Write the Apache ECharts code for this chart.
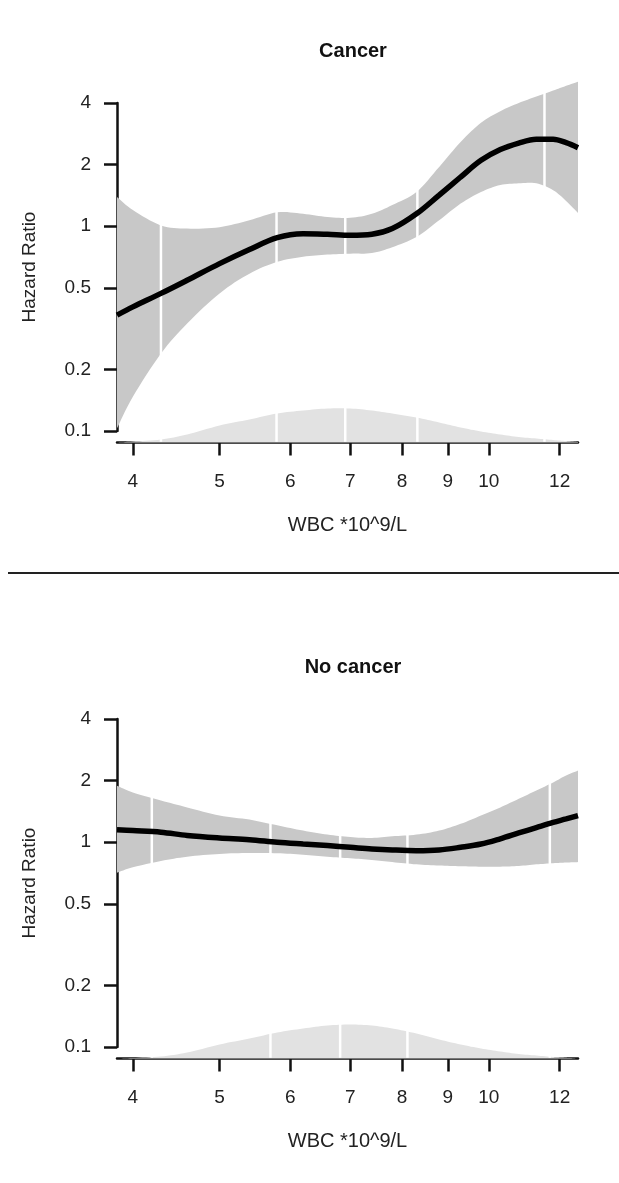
<!DOCTYPE html>
<html><head><meta charset="utf-8">
<script src="https://cdn.jsdelivr.net/npm/echarts@6/dist/echarts.min.js"></script>
<style>html,body{margin:0;padding:0;background:#fff}#c{width:619px;height:1183px}</style>
</head><body><div id="c"></div>
<script>
// ---- data ----
const wbc = [3.84, 4.0, 4.3, 4.6, 5.0, 5.4, 5.8, 6.2, 6.6, 7.0, 7.4, 7.8, 8.3, 8.8, 9.3, 9.8, 10.3, 10.8, 11.3, 11.8, 12.2, 12.58];
const cancerHR = [0.368, 0.404, 0.47, 0.545, 0.657, 0.77, 0.88, 0.92, 0.914, 0.904, 0.914, 0.974, 1.15, 1.42, 1.74, 2.10, 2.37, 2.55, 2.66, 2.66, 2.56, 2.42];
const cancerHi = [1.39, 1.20, 1.01, 0.974, 0.99, 1.07, 1.17, 1.15, 1.11, 1.10, 1.15, 1.27, 1.47, 1.95, 2.58, 3.2, 3.65, 4.0, 4.3, 4.6, 4.85, 5.08];
const cancerLo = [0.103, 0.147, 0.239, 0.335, 0.47, 0.587, 0.67, 0.71, 0.727, 0.735, 0.74, 0.79, 0.887, 1.07, 1.29, 1.47, 1.59, 1.62, 1.62, 1.50, 1.33, 1.16];
const cancerDensity = [0, 1, 3, 8, 17, 23, 29, 32, 34, 34, 32, 29, 25, 20, 15, 11, 8, 5.5, 4, 2.5, 1.5, 0.5];
const cancerQuantiles = [4.30, 5.79, 6.91, 8.32, 11.54];

const noCancerHR = [1.15, 1.14, 1.12, 1.08, 1.05, 1.03, 1.0, 0.98, 0.963, 0.945, 0.928, 0.917, 0.91, 0.917, 0.945, 0.98, 1.04, 1.11, 1.18, 1.25, 1.30, 1.35];
const noCancerHi = [1.89, 1.75, 1.6, 1.48, 1.35, 1.29, 1.21, 1.14, 1.09, 1.06, 1.05, 1.07, 1.09, 1.14, 1.23, 1.35, 1.48, 1.63, 1.79, 1.96, 2.12, 2.24];
const noCancerLo = [0.71, 0.755, 0.81, 0.85, 0.877, 0.887, 0.884, 0.87, 0.85, 0.835, 0.82, 0.80, 0.78, 0.77, 0.764, 0.76, 0.76, 0.766, 0.78, 0.79, 0.796, 0.80];
const noCancerDensity = [0, 0.5, 2, 6, 14, 20, 26, 30, 33, 34, 33, 30, 25, 19, 14, 10, 7, 4.5, 3, 1.5, 0.7, 0];
const noCancerQuantiles = [4.20, 5.70, 6.82, 8.11, 11.70];

const xTicks = [4, 5, 6, 7, 8, 9, 10, 12];
const yTicks = [0.1, 0.2, 0.5, 1, 2, 4];
const panelTitles = ['Cancer', 'No cancer'];
const xName = 'WBC *10^9/L';
const yName = 'Hazard Ratio';

// ---- chart ----
const FONT = '"Liberation Sans", Arial, sans-serif';
const X_MIN = 3.84, X_MAX = 12.58;
const panels = [
  {hr: cancerHR, lo: cancerLo, hi: cancerHi, dens: cancerDensity, q: cancerQuantiles, top: 103, title: panelTitles[0]},
  {hr: noCancerHR, lo: noCancerLo, hi: noCancerHi, dens: noCancerDensity, q: noCancerQuantiles, top: 719, title: panelTitles[1]}
];

// Catmull-Rom resampling of already-projected pixel points (smooth outline)
function smoothPts(pts, steps) {
  const out = [];
  const n = pts.length;
  for (let i = 0; i < n - 1; i++) {
    const p0 = pts[Math.max(i - 1, 0)], p1 = pts[i], p2 = pts[i + 1], p3 = pts[Math.min(i + 2, n - 1)];
    for (let s = 0; s < steps; s++) {
      const t = s / steps, t2 = t * t, t3 = t2 * t;
      const f = (a, b, c, d) => 0.5 * ((2 * b) + (-a + c) * t + (2 * a - 5 * b + 4 * c - d) * t2 + (-a + 3 * b - 3 * c + d) * t3);
      out.push([f(p0[0], p1[0], p2[0], p3[0]), f(p0[1], p1[1], p2[1], p3[1])]);
    }
  }
  out.push(pts[n - 1]);
  return out;
}

const grid = [], xAxis = [], yAxis = [], series = [], title = [];
panels.forEach((p, k) => {
  const gA = k * 2, gB = k * 2 + 1;
  grid.push({left: 117, right: 41, top: p.top, height: 328});
  grid.push({left: 117, right: 41, top: p.top + 301, height: 40});
  xAxis.push({type: 'log', gridIndex: gA, min: X_MIN, max: X_MAX, show: false});
  xAxis.push({
    type: 'log', gridIndex: gB, min: X_MIN, max: X_MAX,
    name: xName, nameLocation: 'middle', nameGap: 71,
    nameTextStyle: {fontFamily: FONT, fontSize: 20, color: '#222'},
    axisLine: {show: true, lineStyle: {color: '#111', width: 2.5}},
    axisTick: {show: true, length: 13, inside: false, customValues: xTicks, lineStyle: {color: '#111', width: 2.5}},
    axisLabel: {show: true, customValues: xTicks, margin: 28, fontFamily: FONT, fontSize: 19, color: '#222',
      formatter: v => String(Math.round(v))},
    splitLine: {show: false}, minorTick: {show: false}
  });
  yAxis.push({
    type: 'log', gridIndex: gA, min: 0.1, max: 4, logBase: 10,
    name: yName, nameLocation: 'middle', nameGap: 78, nameRotate: 90,
    nameTextStyle: {fontFamily: FONT, fontSize: 19, color: '#222'},
    axisLine: {show: true, lineStyle: {color: '#111', width: 2.5}},
    axisTick: {show: true, length: 13, customValues: yTicks, lineStyle: {color: '#111', width: 2.5}},
    axisLabel: {show: true, customValues: yTicks, margin: 26, fontFamily: FONT, fontSize: 19, color: '#222',
      formatter: v => String(+(+v).toPrecision(3))},
    splitLine: {show: false}
  });
  yAxis.push({type: 'value', gridIndex: gB, min: -1.5, max: 38.5, show: false});

  title.push({text: p.title, left: 348, textAlign: 'center', top: p.top - 67,
    textStyle: {fontFamily: FONT, fontSize: 20, fontWeight: 'bold', color: '#111'}});

  // density
  series.push({
    type: 'custom', xAxisIndex: gB, yAxisIndex: gB, z: 1, silent: true,
    data: wbc.map((x, i) => [x, p.dens[i]]),
    encode: {x: 0, y: 1},
    renderItem: (params, api) => {
      if (params.dataIndex !== 0) return null;
      const pts = smoothPts(wbc.map((x, i) => api.coord([x, p.dens[i]])), 8);
      pts.push(api.coord([wbc[wbc.length - 1], 0]));
      pts.push(api.coord([wbc[0], 0]));
      return {type: 'polygon', shape: {points: pts}, style: {fill: '#e2e2e2'}};
    }
  });
  // confidence band + white quantile lines
  series.push({
    type: 'custom', xAxisIndex: gA, yAxisIndex: gA, z: 3, silent: true, clip: false,
    data: wbc.map((x, i) => [x, p.lo[i], p.hi[i]]),
    encode: {x: 0, y: [1, 2]},
    renderItem: (params, api) => {
      if (params.dataIndex !== 0) return null;
      const up = smoothPts(wbc.map((x, i) => api.coord([x, p.hi[i]])), 8);
      const dn = smoothPts(wbc.map((x, i) => api.coord([x, p.lo[i]])), 8).reverse();
      const children = [{type: 'polygon', shape: {points: up.concat(dn)}, style: {fill: '#c8c8c8'}}];
      p.q.forEach(q => {
        const a = api.coord([q, 0.0885]);
        const b = api.coord([q, 6]);
        children.push({type: 'line', shape: {x1: a[0], y1: a[1], x2: b[0], y2: b[1]},
          style: {stroke: '#ffffff', lineWidth: 2.5}});
      });
      return {type: 'group', children};
    }
  });
  // hazard ratio curve
  series.push({
    type: 'line', xAxisIndex: gA, yAxisIndex: gA, z: 5, silent: true,
    data: wbc.map((x, i) => [x, p.hr[i]]),
    smooth: 0.35, showSymbol: false, symbol: 'none',
    lineStyle: {color: '#000', width: 5.5}
  });
});

const chart = echarts.init(document.getElementById('c'), null, {renderer: 'canvas'});
chart.setOption({
  backgroundColor: '#fff',
  animation: false,
  title, grid, xAxis, yAxis, series,
  graphic: [{type: 'line', shape: {x1: 8, y1: 573, x2: 619, y2: 573}, style: {stroke: '#222', lineWidth: 2}}]
});
</script>
</body></html>
